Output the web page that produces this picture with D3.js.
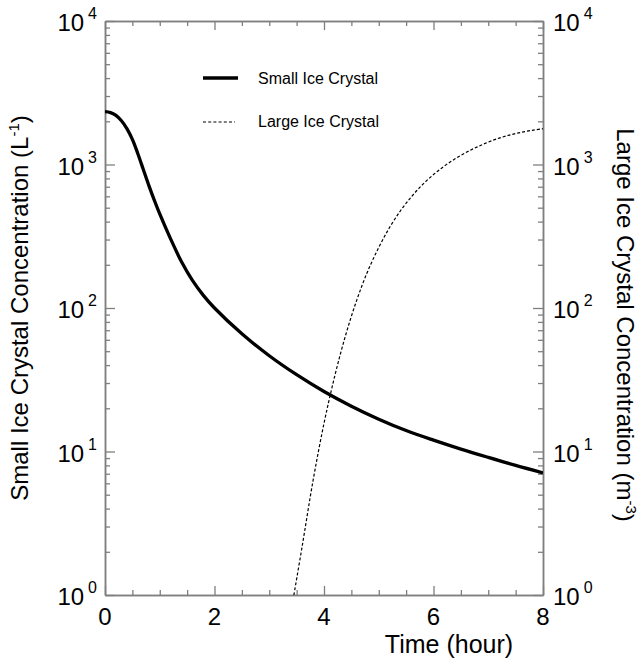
<!DOCTYPE html>
<html><head><meta charset="utf-8">
<script src="https://cdn.jsdelivr.net/npm/d3@7/dist/d3.min.js"></script>
<style>
html,body{margin:0;padding:0;background:#fff;}
text{font-family:"Liberation Sans",Arial,Helvetica,sans-serif;fill:#000;}
</style></head>
<body>
<svg id="chart" width="640" height="662"></svg>
<script>
// ---- data ----
const smallTime = [0,0.1,0.2,0.3,0.4,0.5,0.6,0.7,0.8,0.9,1.0,1.2,1.4,1.6,1.8,2.0,2.5,3.0,3.5,4.0,4.5,5.0,5.5,6.0,6.5,7.0,7.5,8.0];
const smallConc = [2333,2301,2198,2018,1778,1496,1189,923,716,565,452,302,209,155,122,100,66.1,46.5,34.3,26.2,20.7,16.8,14.0,12.0,10.4,9.1,8.0,7.1];
const largeTime = [3.45,3.6,3.8,4.0,4.2,4.4,4.6,4.8,5.0,5.2,5.4,5.6,5.8,6.0,6.2,6.4,6.6,6.8,7.0,7.2,7.4,7.6,7.8,8.0];
const largeConc = [1.0,2.17,6.27,15.7,34.0,65.6,114,181,264,365,478,598,724,851,977,1099,1216,1327,1432,1528,1607,1675,1730,1774];
const xTickLabels = [0,2,4,6,8];
const yTickExps = [0,1,2,3,4];
const seriesNames = ["Small Ice Crystal","Large Ice Crystal"];

// ---- layout ----
const L=105, R=543, T=21, B=595;
const svg=d3.select("#chart");
const x=d3.scaleLinear().domain([0,8]).range([L,R]);
const y=d3.scaleLog().domain([1,1e4]).range([B,T]);

const axisColor="#7f7f7f";
const xMinor=d3.range(0,8.01,0.5).filter(v=>v%2!==0);
const xMajor=d3.range(0,8.01,2);
const yMajor=yTickExps.map(e=>Math.pow(10,e));
const yMinor=[];
for(let e=0;e<4;e++){for(let m=2;m<=9;m++)yMinor.push(m*Math.pow(10,e));}

function styleAxis(g){
  g.selectAll("path.domain").attr("stroke",axisColor).attr("stroke-width",1.5);
  g.selectAll(".tick line").attr("stroke",axisColor).attr("stroke-width",1.3);
  g.selectAll(".tick text").remove();
}
[[xMajor,9],[xMinor,5]].forEach(([vals,sz])=>{
  svg.append("g").attr("transform",`translate(0,${B})`)
    .call(d3.axisTop(x).tickValues(vals).tickSize(sz).tickSizeOuter(0)).call(styleAxis);
  svg.append("g").attr("transform",`translate(0,${T})`)
    .call(d3.axisBottom(x).tickValues(vals).tickSize(sz).tickSizeOuter(0)).call(styleAxis);
});
[[yMajor,10],[yMinor,5]].forEach(([vals,sz])=>{
  svg.append("g").attr("transform",`translate(${L},0)`)
    .call(d3.axisRight(y).tickValues(vals).tickSize(sz).tickSizeOuter(0)).call(styleAxis);
  svg.append("g").attr("transform",`translate(${R},0)`)
    .call(d3.axisLeft(y).tickValues(vals).tickSize(sz).tickSizeOuter(0)).call(styleAxis);
});

// tick labels
xTickLabels.forEach(v=>{
  svg.append("text").attr("x",x(v)).attr("y",B+30).attr("text-anchor","middle")
    .attr("font-size",24).text(v);
});
yTickExps.forEach(e=>{
  const yy=y(Math.pow(10,e))+10;
  [[L-8,"end"],[R+10,"start"]].forEach(([xx,anchor])=>{
    const t=svg.append("text").attr("x",xx).attr("y",yy).attr("text-anchor",anchor).attr("font-size",24);
    t.append("tspan").text("10");
    t.append("tspan").attr("dx",4).attr("dy",-12).attr("font-size",16).text(e);
  });
});

// axis titles
svg.append("text").attr("x",449).attr("y",653).attr("text-anchor","middle")
  .attr("font-size",25).text("Time (hour)");
const lt=svg.append("text").attr("transform",`translate(28,${(T+B)/2}) rotate(-90)`)
  .attr("text-anchor","middle").attr("font-size",24);
lt.append("tspan").text("Small Ice Crystal Concentration (L");
lt.append("tspan").attr("dy",-9).attr("font-size",15).text("-1");
lt.append("tspan").attr("dy",9).text(")");
const rt=svg.append("text").attr("transform",`translate(617,325) rotate(90)`)
  .attr("text-anchor","middle").attr("font-size",24);
rt.append("tspan").text("Large Ice Crystal Concentration (m");
rt.append("tspan").attr("dy",-9).attr("font-size",15).text("-3");
rt.append("tspan").attr("dy",9).text(")");

// clip
svg.append("clipPath").attr("id","plotclip").append("rect")
  .attr("x",L).attr("y",T).attr("width",R-L).attr("height",B-T);

const line=d3.line().x(d=>x(d[0])).y(d=>y(d[1])).curve(d3.curveCatmullRom.alpha(0.5));
const plot=svg.append("g").attr("clip-path","url(#plotclip)");
plot.append("path").datum(smallTime.map((t,i)=>[t,smallConc[i]]))
  .attr("d",line).attr("fill","none").attr("stroke","#000").attr("stroke-width",3.3);
plot.append("path").datum(largeTime.map((t,i)=>[t,largeConc[i]]))
  .attr("d",line).attr("fill","none").attr("stroke","#000").attr("stroke-width",1.2)
  .attr("stroke-dasharray","3,2");

// legend
const lg=svg.append("g");
lg.append("line").attr("x1",203).attr("x2",238).attr("y1",78).attr("y2",78)
  .attr("stroke","#000").attr("stroke-width",3.3);
lg.append("text").attr("x",258).attr("y",84).attr("font-size",16).text(seriesNames[0]);
lg.append("line").attr("x1",203).attr("x2",235).attr("y1",122).attr("y2",122)
  .attr("stroke","#000").attr("stroke-width",1.2).attr("stroke-dasharray","3,2.2");
lg.append("text").attr("x",258).attr("y",127).attr("font-size",16).text(seriesNames[1]);
</script>
</body></html>
